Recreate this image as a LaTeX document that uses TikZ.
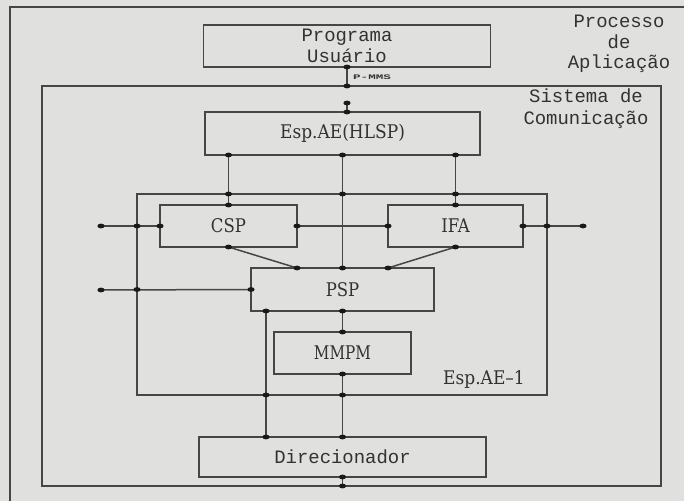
\documentclass[tikz,border=0pt]{standalone}
\usepackage{fontspec}
\usepackage{graphicx}
\usetikzlibrary{calc}
\newfontfamily\monof{Liberation Mono}
\newfontfamily\serf{DejaVu Serif}
\definecolor{bgc}{RGB}{224,224,222}
\definecolor{wirec}{RGB}{70,70,70}
\definecolor{dotc}{RGB}{25,25,25}
\definecolor{textc}{RGB}{50,50,50}
\newcommand\mydot[1]{\fill[dotc] (#1) ellipse [x radius=3.6bp, y radius=2.4bp];}
\tikzset{
  box/.style={draw=wirec, line width=1.4bp, inner sep=0pt, outer sep=0pt, rectangle},
  wire/.style={draw=wirec, line width=1.5bp},
  lbl/.style={text=textc, inner sep=0pt, font=\serf\fontsize{18}{20}\selectfont},
  mlbl/.style={text=textc, inner sep=0pt, align=center, font=\monof\fontsize{19}{20.5}\selectfont},
}
\begin{document}
\begin{tikzpicture}[x=1bp,y=-1bp]
\fill[bgc] (0,0) rectangle (684,501);
\useasboundingbox (0,0) rectangle (684,501);
% outer frame (Processo de Aplicacao)
\draw[wire] (684,7) -- (10,7) -- (10,501);
% boxes
\node[box, minimum width=619bp, minimum height=400bp] (sis) at (351.5,286) {};
\node[box, minimum width=410bp, minimum height=201bp] (ae1) at (342,294.5) {};
\node[box, minimum width=287bp, minimum height=42bp] (prog) at (347,46) {};
\node[box, minimum width=275bp, minimum height=43bp] (hlsp) at (342.5,133.5) {};
\node[box, minimum width=137bp, minimum height=42bp] (csp) at (228.5,226) {};
\node[box, minimum width=135bp, minimum height=42bp] (ifa) at (455.5,226) {};
\node[box, minimum width=183bp, minimum height=43bp] (psp) at (342.5,289.5) {};
\node[box, minimum width=137bp, minimum height=42bp] (mmpm) at (342.5,353) {};
\node[box, minimum width=287bp, minimum height=40bp] (dir) at (342.5,457) {};
% labels
\node[mlbl] (tprog) at (prog.center) {Programa\\Usuário};
\node[mlbl] (tproc) at (619,44) {Processo\\de\\Aplicação};
\node[mlbl, font=\monof\fontsize{19}{22}\selectfont] (tsis) at (586,109) {Sistema de\\Comunicação};
\node[lbl] (thlsp) at (hlsp.center) {\scalebox{0.95}[1.05]{Esp.AE(HLSP)}};
\node[lbl] (tcsp) at (csp.center) {\scalebox{0.92}[1.05]{CSP}};
\node[lbl] (tifa) at (ifa.center) {\scalebox{0.92}[1.05]{IFA}};
\node[lbl] (tpsp) at (psp.center) {\scalebox{0.92}[1.05]{PSP}};
\node[lbl] (tmmpm) at (mmpm.center) {\scalebox{0.85}[1.05]{MMPM}};
\node[lbl] (tae1) at (484,379) {\scalebox{0.95}[1.05]{Esp.AE–1}};
\node[mlbl] (tdir) at (dir.center) {Direcionador};
\node[text=textc, inner sep=0pt, anchor=west, font=\monof\bfseries\fontsize{7}{7}\selectfont] (tpmms) at (353,77) {\scalebox{1.8}[1]{P-MMS}};
% free ends
\coordinate (top2) at (347,103);
\coordinate (in1) at (101,226);
\coordinate (in2) at (101,290);
\coordinate (out1) at (583,226);
\coordinate (pspl) at ([xshift=15bp]psp.south west);
% connectors
\draw[wire] (prog.south) -- (prog.south |- sis.north);
\mydot{prog.south} \mydot{prog.south |- sis.north}
\draw[wire] (top2) -- (top2 |- hlsp.north);
\mydot{top2} \mydot{top2 |- hlsp.north}
\draw[wire] (csp.north |- hlsp.south) -- (csp.north);
\mydot{csp.north |- hlsp.south} \mydot{csp.north |- ae1.north} \mydot{csp.north}
\draw[wire] (ifa.north |- hlsp.south) -- (ifa.north);
\mydot{ifa.north |- hlsp.south} \mydot{ifa.north |- ae1.north} \mydot{ifa.north}
\draw[wire] (hlsp.south) -- (psp.north);
\mydot{hlsp.south} \mydot{psp.north |- ae1.north} \mydot{psp.north}
\draw[wire] (in1) -- (csp.west);
\mydot{in1} \mydot{csp.west -| ae1.west} \mydot{csp.west}
\draw[wire] (csp.east) -- (ifa.west);
\mydot{csp.east} \mydot{ifa.west}
\draw[wire] (ifa.east) -- (out1);
\mydot{ifa.east} \mydot{ifa.east -| ae1.east} \mydot{out1}
\draw[wire] (csp.south) -- (psp.north -| csp.east);
\mydot{csp.south} \mydot{psp.north -| csp.east}
\draw[wire] (ifa.south) -- (psp.north -| ifa.west);
\mydot{ifa.south} \mydot{psp.north -| ifa.west}
\draw[wire] (in2) -- (psp.west);
\mydot{in2} \mydot{psp.west -| ae1.west} \mydot{psp.west}
\draw[wire] (pspl) -- (pspl |- dir.north);
\mydot{pspl} \mydot{pspl |- ae1.south} \mydot{pspl |- dir.north}
\draw[wire] (psp.south) -- (mmpm.north);
\mydot{psp.south} \mydot{mmpm.north}
\draw[wire] (mmpm.south) -- (dir.north);
\mydot{mmpm.south} \mydot{mmpm.south |- ae1.south} \mydot{dir.north}
\draw[wire] (dir.south) -- (dir.south |- sis.south);
\mydot{dir.south} \mydot{dir.south |- sis.south}
\end{tikzpicture}
\end{document}
